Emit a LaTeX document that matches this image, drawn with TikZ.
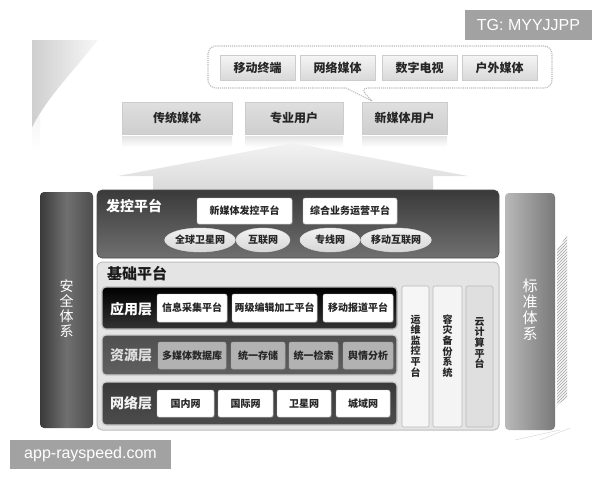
\documentclass[tikz,border=0pt]{standalone}
\usepackage{fontspec}
\setmainfont{Noto Sans CJK SC}
\newfontfamily\wmfont{Liberation Sans}
\usetikzlibrary{shadows,patterns,shapes.geometric}
\definecolor{pdark}{HTML}{3A3A3A}
\definecolor{pmid}{HTML}{707070}
\definecolor{jichu}{HTML}{E4E4E4}
\definecolor{wmgray}{HTML}{A2A2A2}
\tikzset{
  fs/.style={font=\bfseries\fontsize{#1}{#1}\selectfont},
  topbox/.style={draw=gray!40, line width=0.4pt, top color=gray!8, bottom color=gray!30, inner sep=0pt, fs=12, text=black!85},
  wbox/.style={draw=gray!55, fill=white, rounded corners=2pt, inner sep=0pt, fs=10, text=black!85,
    drop shadow={shadow xshift=0.8pt, shadow yshift=-0.9pt, opacity=0.45}},
  gbox/.style={draw=gray!70, fill=gray!60!white, rounded corners=2pt, inner sep=0pt, fs=10, text=black!85,
    drop shadow={shadow xshift=0.8pt, shadow yshift=-0.9pt, opacity=0.4}},
  ell/.style={ellipse, draw=gray!25, top color=gray!10, bottom color=gray!32, inner sep=0pt, fs=10, text=black!85},
  rowlabel/.style={fs=14, inner sep=0pt},
  vcol/.style={draw=gray!55, rounded corners=2pt, inner sep=0pt, line width=0.6pt},
  vtext/.style={align=center, inner sep=0pt, font=\bfseries\fontsize{10}{10.6}\selectfont, text=black!85},
  wm/.style={fill=wmgray, text=white, inner sep=0pt, font=\wmfont\fontsize{16}{16}\selectfont}
}
\begin{document}
\begin{tikzpicture}[x=1pt,y=-1pt]
\useasboundingbox (0,0) rectangle (600,480);
\fill[white] (0,0) rectangle (600,480);

% decorative wedge top-left
\shade[left color=gray!38, right color=gray!6] (32,40) -- (98,40) .. controls (70,75) and (45,100) .. (32,128) -- cycle;
\shade[top color=gray!8, bottom color=white] (32,128) .. controls (36,120) .. (40,115) -- (40,150) -- (32,150) -- cycle;

% watermark TG
\node[wm, minimum width=127pt, minimum height=30pt] (tg) at (528.5,25) {TG: MYYJJPP};

% dotted bubble
\draw[gray!55, line width=1.1pt, densely dotted, rounded corners=8pt]
  (208,88) -- (208,46) -- (552,46) -- (552,88) -- (360,88) [sharp corners] -- (372,101) -- (346,88) [rounded corners=8pt] -- cycle;

% top media boxes
\node[topbox, minimum width=75pt, minimum height=25pt] (m1) at (257.5,67.5) {移动终端};
\node[topbox, minimum width=75pt, minimum height=25pt] (m2) at (337.5,67.5) {网络媒体};
\node[topbox, minimum width=75pt, minimum height=25pt] (m3) at (419.5,67.5) {数字电视};
\node[topbox, minimum width=75pt, minimum height=25pt] (m4) at (499.5,67.5) {户外媒体};

% reflections
\shade[top color=gray!22, bottom color=white] (122,136) rectangle (232,147);
\shade[top color=gray!22, bottom color=white] (245,136) rectangle (343,147);
\shade[top color=gray!22, bottom color=white] (362,136) rectangle (447,147);

% user boxes
\node[draw=gray!40, top color=gray!25, bottom color=gray!38, inner sep=0pt, fs=12, text=black!85, minimum width=110pt, minimum height=32pt] (u1) at (177,118) {传统媒体};
\node[draw=gray!40, top color=gray!25, bottom color=gray!38, inner sep=0pt, fs=12, text=black!85, minimum width=98pt, minimum height=32pt] (u2) at (294,118) {专业用户};
\node[draw=gray!40, top color=gray!25, bottom color=gray!38, inner sep=0pt, fs=12, text=black!85, minimum width=85pt, minimum height=32pt] (u3) at (404.5,118) {新媒体用户};

% big arrow
\shade[top color=gray!10, bottom color=gray!30] (293,143) -- (468,176) -- (433,176) -- (433,192) -- (153,192) -- (153,176) -- (118,176) -- cycle;

% side columns
\shade[rounded corners=4pt, left color=pdark, right color=pdark!90, middle color=pmid] (40,192) rectangle (93,428);
\node[align=center, inner sep=0pt, text=white, font=\fontsize{14}{15}\selectfont] (anquan) at (66.5,309) {安\\全\\体\\系};
\shade[rounded corners=4pt, left color=gray!55, middle color=gray!68, right color=gray!95!black] (505,193) rectangle (555,430);
\node[align=center, inner sep=0pt, text=white, font=\fontsize{15}{16}\selectfont] (biaozhun) at (530,310) {标\\准\\体\\系};

% hatched decoration
\fill[gray!8] (557,250) -- (567,235) -- (567,398) -- (557,405) -- cycle;
\fill[pattern=north east lines, pattern color=gray!70] (557,250) -- (567,235) -- (567,398) -- (557,405) -- cycle;
\draw[gray!25, line width=0.6pt] (515,440) -- (560,430) (540,440) -- (570,428);

% 发控平台 panel
\shade[rounded corners=5pt, top color=pdark, bottom color=pmid] (97,190) rectangle (499,258);
\draw[rounded corners=5pt, gray!60!black, line width=0.6pt] (97,190) rectangle (499,258);
\node[fs=14, text=white, inner sep=0pt] (fakong) at (134,206) {发控平台};
\node[wbox, minimum width=95pt, minimum height=26pt] (f1) at (244.5,211) {新媒体发控平台};
\node[wbox, minimum width=94pt, minimum height=26pt] (f2) at (350,211) {综合业务运营平台};
\node[ell, minimum width=60pt, minimum height=24pt] (e1) at (200,240) {全球卫星网};
\node[ell, minimum width=54pt, minimum height=24pt] (e2) at (263,240) {互联网};
\node[ell, minimum width=60pt, minimum height=24pt] (e3) at (330,240) {专线网};
\node[ell, minimum width=58pt, minimum height=24pt] (e4) at (396,240) {移动互联网};

% 基础平台 panel
\draw[rounded corners=5pt, fill=jichu, draw=gray!50, line width=1pt] (97,262) rectangle (499,430);
\node[fs=15, text=black!90, inner sep=0pt] (jichu) at (137,274) {基础平台};

% 应用层
\shade[rounded corners=4pt, top color=black, bottom color=black!80] (102,287) rectangle (397,329);
\draw[rounded corners=4pt, gray!55, line width=1.2pt] (102,287) rectangle (397,329);
\node[rowlabel, text=white] (yy) at (131,309) {应用层};
\node[wbox, minimum width=70pt, minimum height=28pt] (a1) at (192,308) {信息采集平台};
\node[wbox, minimum width=85pt, minimum height=28pt] (a2) at (274.5,308) {两级编辑加工平台};
\node[wbox, minimum width=70pt, minimum height=28pt] (a3) at (358,308) {移动报道平台};

% 资源层
\shade[rounded corners=4pt, top color=gray!62!black, bottom color=gray!75!black] (102,335) rectangle (397,375);
\draw[rounded corners=4pt, gray!40, line width=1.2pt] (102,335) rectangle (397,375);
\node[rowlabel, text=gray!25] (zy) at (131,355) {资源层};
\node[gbox, minimum width=68pt, minimum height=27pt] (r1) at (192,355.5) {多媒体数据库};
\node[gbox, minimum width=54pt, minimum height=27pt] (r2) at (258,355.5) {统一存储};
\node[gbox, minimum width=49pt, minimum height=27pt] (r3) at (313.5,355.5) {统一检索};
\node[gbox, minimum width=50pt, minimum height=27pt] (r4) at (368,355.5) {舆情分析};

% 网络层
\shade[rounded corners=4pt, top color=gray!45!black, bottom color=gray!60!black] (102,382) rectangle (397,425);
\draw[rounded corners=4pt, gray!40, line width=1.2pt] (102,382) rectangle (397,425);
\node[rowlabel, text=gray!10] (wl) at (131,403) {网络层};
\node[wbox, minimum width=57pt, minimum height=27pt] (n1) at (185.5,403.5) {国内网};
\node[wbox, minimum width=55pt, minimum height=27pt] (n2) at (245.5,403.5) {国际网};
\node[wbox, minimum width=54pt, minimum height=27pt] (n3) at (304,403.5) {卫星网};
\node[wbox, minimum width=54pt, minimum height=27pt] (n4) at (363,403.5) {城域网};

% vertical platform columns
\node[vcol, fill=gray!7, minimum width=27pt, minimum height=141pt] (c1) at (415.5,356.5) {};
\node[vcol, fill=gray!9, minimum width=29pt, minimum height=141pt] (c2) at (447.5,356.5) {};
\node[vcol, fill=gray!25, minimum width=27pt, minimum height=141pt] (c3) at (479.5,356.5) {};
\node[vtext] (t1) at (415.5,346) {运\\维\\监\\控\\平\\台};
\node[vtext] (t2) at (447.5,346) {容\\灾\\备\\份\\系\\统};
\node[vtext] (t3) at (479.5,343) {云\\计\\算\\平\\台};

% watermark bottom
\node[wm, minimum width=161pt, minimum height=29pt] (app) at (90.5,454.5) {app-rayspeed.com};
\end{tikzpicture}
\end{document}
